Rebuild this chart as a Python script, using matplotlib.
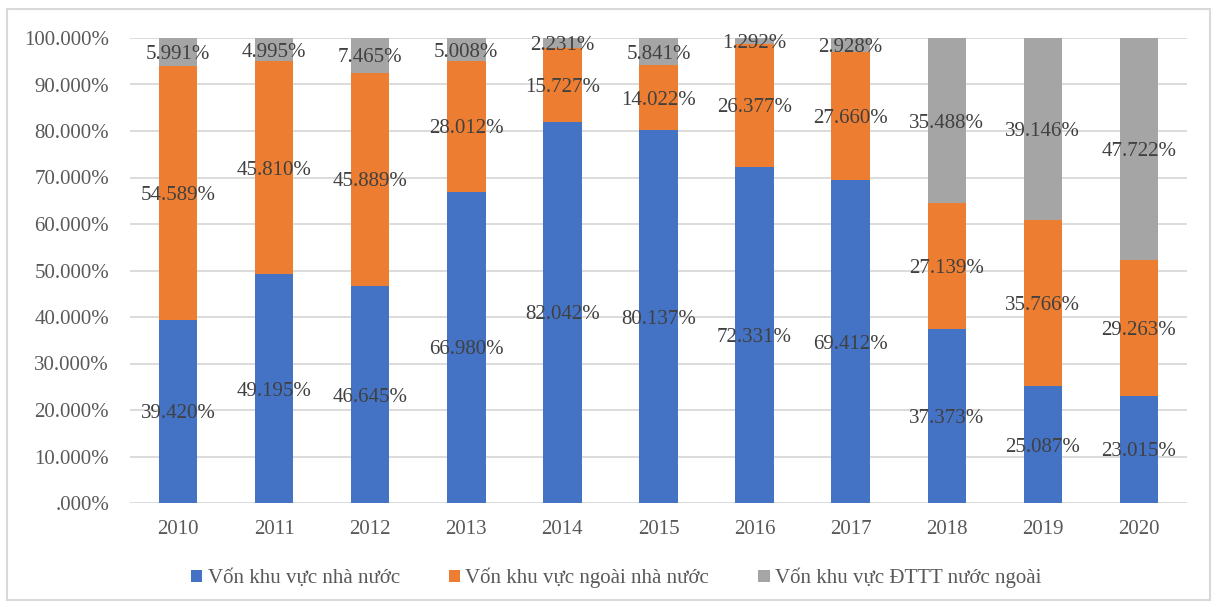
import matplotlib
matplotlib.use("Agg")
import matplotlib.pyplot as plt
from matplotlib.patches import Rectangle, Patch

plt.rcParams['font.family'] = ['Liberation Serif', 'DejaVu Serif']

years = ['2010', '2011', '2012', '2013', '2014', '2015', '2016', '2017', '2018', '2019', '2020']
state = [39.420, 49.195, 46.645, 66.980, 82.042, 80.137, 72.331, 69.412, 37.373, 25.087, 23.015]
nonstate = [54.589, 45.810, 45.889, 28.012, 15.727, 14.022, 26.377, 27.660, 27.139, 35.766, 29.263]
fdi = [5.991, 4.995, 7.465, 5.008, 2.231, 5.841, 1.292, 2.928, 35.488, 39.146, 47.722]
series_names = ['Vốn khu vực nhà nước', 'Vốn khu vực ngoài nhà nước', 'Vốn khu vực ĐTTT nước ngoài']
colors = ['#4472C4', '#ED7D31', '#A5A5A5']

W, H = 1218, 607
fig = plt.figure(figsize=(W / 100, H / 100), dpi=100)
ax = fig.add_axes([130 / W, 1 - 503 / H, (1187 - 130) / W, (503 - 38) / H])

x = list(range(len(years)))
bottom = [0.0] * len(years)
for vals, col in zip([state, nonstate, fdi], colors):
    ax.bar(x, vals, width=0.4, bottom=bottom, color=col, zorder=2)
    for i, v in enumerate(vals):
        ax.text(i, bottom[i] + v / 2, f"{v:.3f}%", ha='center', va='center_baseline',
                fontsize=15, color='#404040', zorder=3)
    bottom = [b + v for b, v in zip(bottom, vals)]

ax.set_xlim(-0.5, len(years) - 0.5)
ax.set_ylim(0, 100)
yt = list(range(0, 101, 10))
ax.set_yticks(yt)
ax.set_yticklabels([(f"{v:.3f}%" if v else ".000%") for v in yt])
ax.set_xticks(x)
ax.set_xticklabels(years)
ax.tick_params(axis='both', length=0, labelsize=15, labelcolor='#595959')
ax.tick_params(axis='y', pad=15)
ax.tick_params(axis='x', pad=12)
ax.grid(axis='y', color='#D9D9D9', linewidth=1.3, zorder=0)
for s in ax.spines.values():
    s.set_visible(False)

handles = [Patch(facecolor=c, edgecolor='none') for c in colors]
fig.legend(handles, series_names, loc='center', bbox_to_anchor=(616 / W, 1 - 578 / H),
           ncol=3, frameon=False, fontsize=15, labelcolor='#595959',
           handlelength=0.55, handleheight=0.55, handletextpad=0.25, columnspacing=2.35)

fig.patches.append(Rectangle((7 / W, 1 - 600 / H), (1210 - 7) / W, (600 - 9) / H,
                             transform=fig.transFigure, fill=False,
                             edgecolor='#D9D9D9', linewidth=1.5))

fig.savefig('out.png', dpi=100)
